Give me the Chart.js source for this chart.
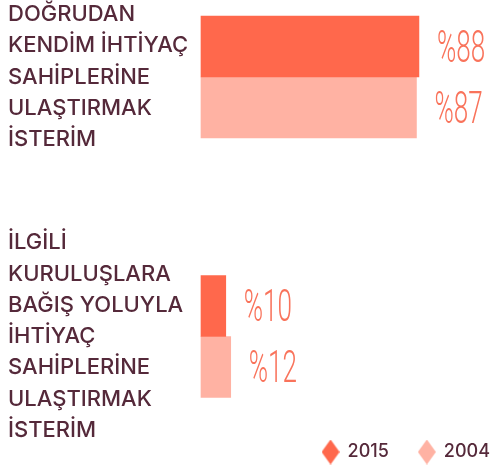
<!DOCTYPE html>
<html><head><meta charset="utf-8">
<script src="https://cdn.jsdelivr.net/npm/chart.js@4/dist/chart.umd.min.js"></script>
<style>html,body{margin:0;padding:0;background:#fff}#wrap{width:490px;height:471px}</style>
</head><body><div id="wrap"><canvas id="c" width="490" height="471"></canvas></div>
<script>
const categories = [
  ["DOĞRUDAN","KENDİM İHTİYAÇ","SAHİPLERİNE","ULAŞTIRMAK","İSTERİM"],
  ["İLGİLİ","KURULUŞLARA","BAĞIŞ YOLUYLA","İHTİYAÇ","SAHİPLERİNE","ULAŞTIRMAK","İSTERİM"]
];
const seriesNames = ["2015", "2004"];
const values2015 = [88, 10];
const values2004 = [87, 12];
const valuePrefix = "%";

const TEXT = '#55293a';
const C2015 = '#ff684c';
const C2004 = '#ffb2a3';
const LABEL = '#f9735b';

function diamond(color){
  const c = document.createElement('canvas'); c.width = 18; c.height = 25;
  const g = c.getContext('2d'); g.fillStyle = color; g.beginPath();
  g.moveTo(9,0); g.lineTo(18,12.5); g.lineTo(9,25); g.lineTo(0,12.5); g.closePath(); g.fill();
  return c;
}
const diamonds = [diamond(C2015), diamond(C2004)];

const valueLabels = {
  id: 'valueLabels',
  afterDatasetsDraw(chart){
    const ctx = chart.ctx;
    chart.data.datasets.forEach((ds, di) => {
      const meta = chart.getDatasetMeta(di);
      meta.data.forEach((bar, i) => {
        ctx.save();
        ctx.translate(bar.x + 18, bar.y + 15);
        ctx.scale(0.58, 1);
        ctx.font = '300 45px Roboto';
        ctx.fillStyle = LABEL;
        ctx.textAlign = 'left';
        ctx.textBaseline = 'alphabetic';
        ctx.fillText(valuePrefix + ds.data[i], 0, 0);
        ctx.restore();
      });
    });
  }
};
const legendShift = {
  id: 'legendShift',
  afterLayout(chart){ const l = chart.legend; if (l){ l.right += 30; l.width += 30; } }
};

new Chart(document.getElementById('c'), {
  type: 'bar',
  data: {
    labels: categories,
    datasets: [
      { label: seriesNames[0], data: values2015, backgroundColor: C2015, barThickness: 61, clip: false },
      { label: seriesNames[1], data: values2004, backgroundColor: C2004, barThickness: 61, clip: false }
    ]
  },
  options: {
    indexAxis: 'y',
    responsive: false,
    animation: false,
    devicePixelRatio: 1,
    layout: { padding: { top: 77, left: 8, right: 0, bottom: 0 } },
    scales: {
      x: {
        min: 0, max: 116.7,
        grid: { display: false }, border: { display: false },
        ticks: { display: false },
        afterFit(s){ s.height = 76.5; }
      },
      y: {
        offset: false,
        grid: { display: false }, border: { display: false },
        ticks: { autoSkip: false, crossAlign: 'far', color: TEXT,
          font: { family: 'Inter', weight: '500', size: 22, lineHeight: 1.42 } },
        afterFit(s){ s.width = 193; s.paddingTop = 0; s.paddingBottom = 0; }
      }
    },
    plugins: {
      tooltip: { enabled: false },
      legend: {
        position: 'bottom', align: 'end',
        labels: {
          usePointStyle: true, pointStyleWidth: 16, padding: 30, color: TEXT,
          font: { family: 'Inter', weight: '500', size: 18 },
          generateLabels(chart){
            const items = Chart.defaults.plugins.legend.labels.generateLabels(chart);
            items.forEach((it, i) => { it.pointStyle = diamonds[i]; it.lineWidth = 0; it.strokeStyle = 'rgba(0,0,0,0)'; it.fontColor = TEXT; });
            return items;
          }
        }
      }
    }
  },
  plugins: [valueLabels, legendShift]
});
</script></body></html>
